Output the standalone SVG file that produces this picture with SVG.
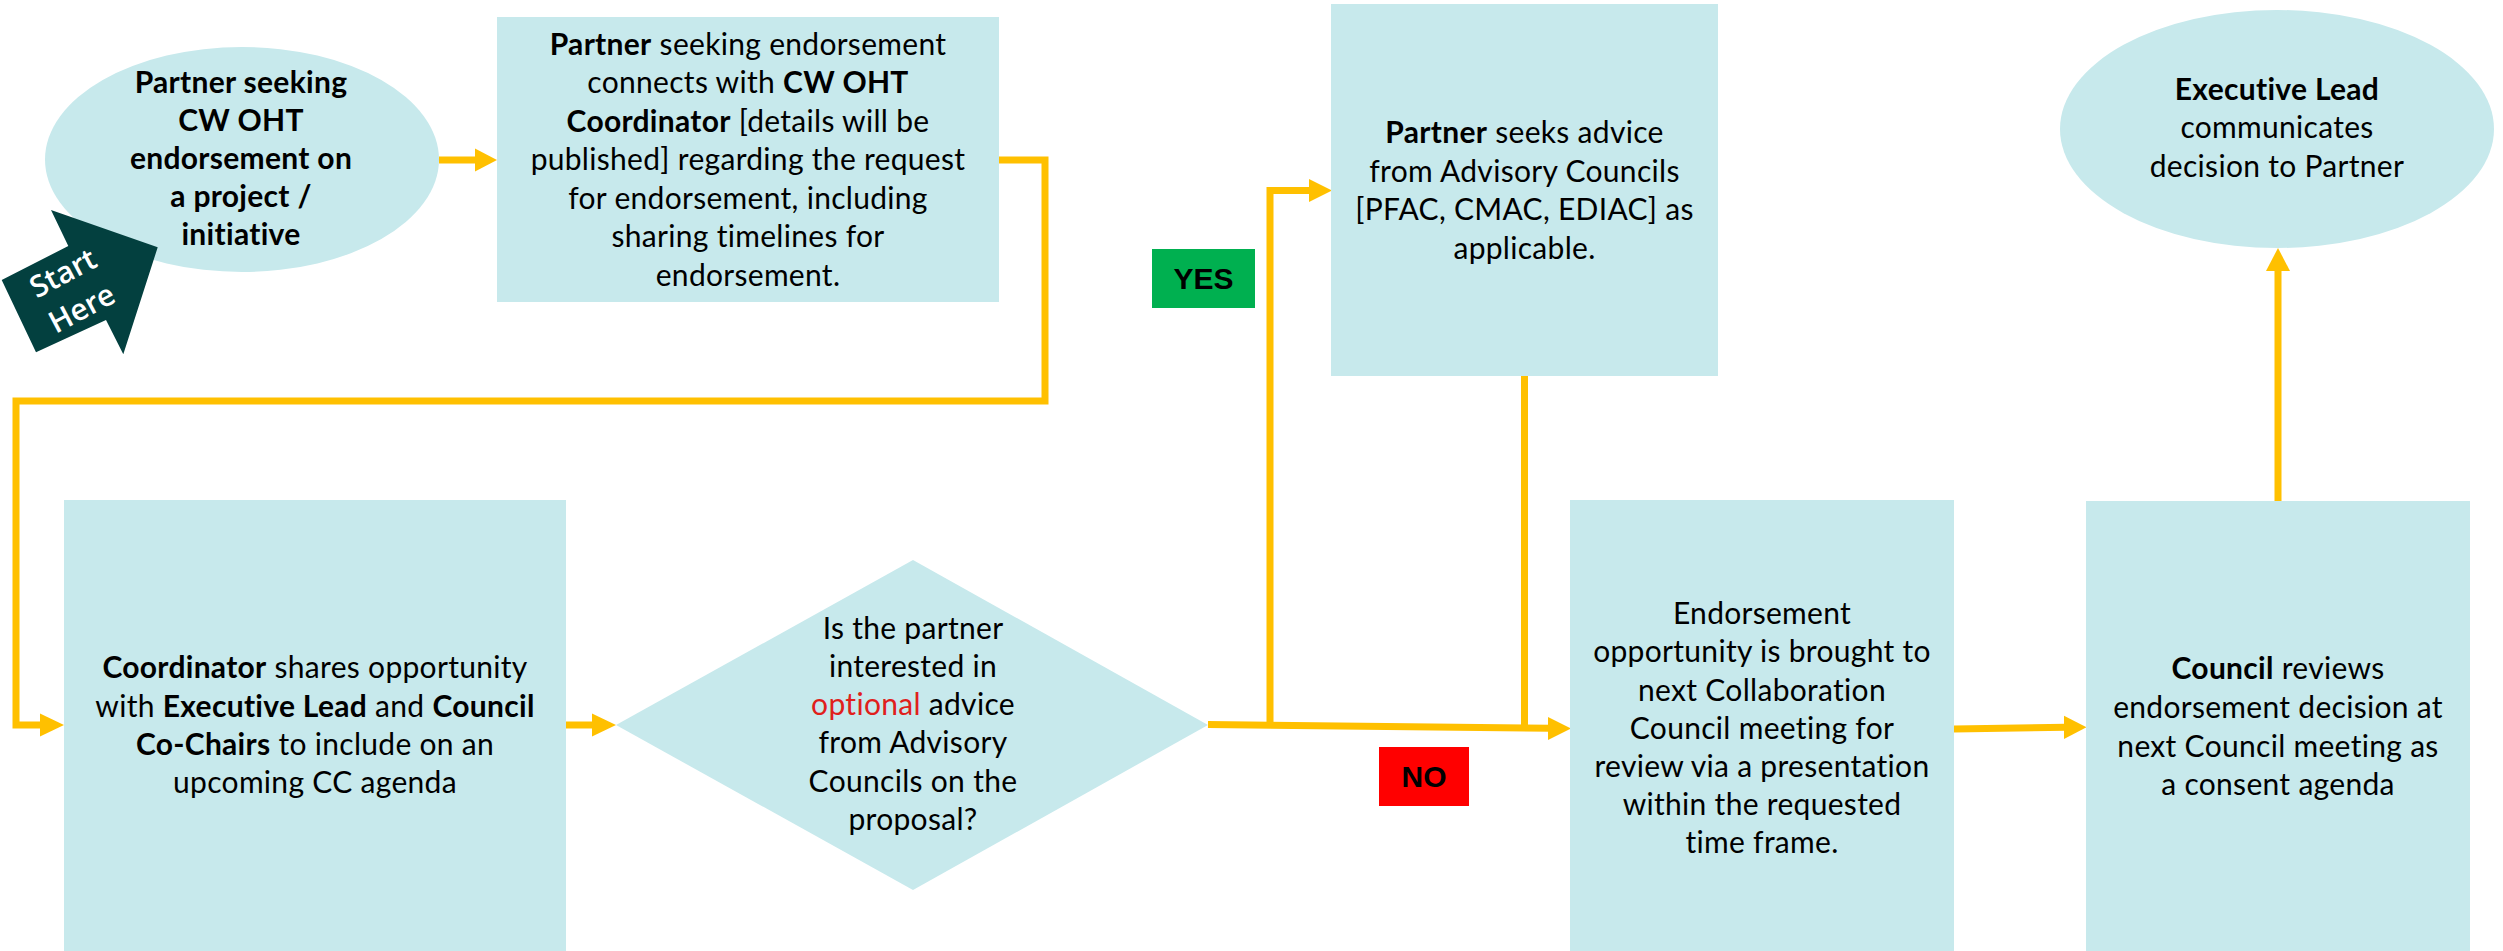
<svg xmlns="http://www.w3.org/2000/svg" width="2503" height="951" viewBox="0 0 2503 951">
<style>
.n{fill:#C7E9EC;}
.t{font-family:Lato,"Noto Sans","Liberation Sans",sans-serif;font-size:30px;letter-spacing:0.3px;fill:#000;text-anchor:middle;}
.b{font-weight:bold;}
.c{fill:none;stroke:#FFC000;stroke-width:7;stroke-linejoin:miter;}
.h{fill:#FFC000;}
.lbl{font-family:"Liberation Sans",Arial,sans-serif;font-weight:bold;font-size:30px;fill:#000;text-anchor:middle;}
</style>
<rect width="2503" height="951" fill="#fff"/>

<g id="connectors">
  <line class="c" x1="439" y1="160" x2="477" y2="160"/>
  <polygon class="h" points="475,148.5 497,160 475,171.5"/>
  <polyline class="c" points="999,160 1045,160 1045,401 16,401 16,725 42,725"/>
  <polygon class="h" points="40,713.5 64,725 40,736.5"/>
  <line class="c" x1="566" y1="725" x2="594" y2="725"/>
  <polygon class="h" points="592,713.5 616,725 592,736.5"/>
  <polyline class="c" points="1208,724.5 1550,728.3"/>
  <polygon class="h" points="1548,717 1571,728.5 1548,740"/>
  <polyline class="c" points="1270,724.7 1270,190.5 1311,190.5"/>
  <polygon class="h" points="1309,179 1332,190.5 1309,202"/>
  <polyline class="c" points="1524.5,376 1524.5,728"/>
  <polyline class="c" points="1954,729 2066,727.3"/>
  <polygon class="h" points="2064,715.7 2086.5,727.3 2064,739"/>
  <line class="c" x1="2278" y1="501" x2="2278" y2="269"/>
  <polygon class="h" points="2266,271 2278,248 2290,271"/>
</g>

<g id="node-start-ellipse">
  <ellipse class="n" cx="242" cy="159.5" rx="197" ry="112.5"/>
  <text class="t b" x="241" y="93">Partner seeking</text>
  <text class="t b" x="241" y="131">CW OHT</text>
  <text class="t b" x="241" y="169">endorsement on</text>
  <text class="t b" x="241" y="207">a project /</text>
  <text class="t b" x="241" y="245">initiative</text>
</g>

<g id="start-here">
  <polygon fill="#03403F" points="51,210 68.3,246 1.7,280 36,352.3 106,320 123.3,354.3 157.7,247.3"/>
  <g transform="rotate(-28 72.5 290.8)">
    <text x="72.5" y="281" font-family="'Open Sans',Lato,sans-serif" font-weight="600" font-size="30" fill="#fff" text-anchor="middle">Start</text>
    <text x="72.5" y="321" font-family="'Open Sans',Lato,sans-serif" font-weight="600" font-size="30" fill="#fff" text-anchor="middle">Here</text>
  </g>
</g>

<g id="node-connect">
  <rect class="n" x="497" y="17" width="502" height="285"/>
  <text class="t" x="748" y="54.5"><tspan class="b">Partner</tspan> seeking endorsement</text>
  <text class="t" x="748" y="93">connects with <tspan class="b">CW OHT</tspan></text>
  <text class="t" x="748" y="131.5"><tspan class="b">Coordinator</tspan> [details will be</text>
  <text class="t" x="748" y="170">published] regarding the request</text>
  <text class="t" x="748" y="208.5">for endorsement, including</text>
  <text class="t" x="748" y="247">sharing timelines for</text>
  <text class="t" x="748" y="285.5">endorsement.</text>
</g>

<g id="node-coordinator">
  <rect class="n" x="64" y="500" width="502" height="451"/>
  <text class="t" x="315" y="678"><tspan class="b">Coordinator</tspan> shares opportunity</text>
  <text class="t" x="315" y="717">with <tspan class="b">Executive Lead</tspan> and <tspan class="b">Council</tspan></text>
  <text class="t" x="315" y="755"><tspan class="b">Co-Chairs</tspan> to include on an</text>
  <text class="t" x="315" y="793">upcoming CC agenda</text>
</g>

<g id="node-decision">
  <polygon class="n" points="913,560 1208,725 913,890 616,725"/>
  <text class="t" x="913" y="638.5">Is the partner</text>
  <text class="t" x="913" y="677">interested in</text>
  <text class="t" x="913" y="715"><tspan fill="#E0201B">optional</tspan> advice</text>
  <text class="t" x="913" y="753">from Advisory</text>
  <text class="t" x="913" y="791.5">Councils on the</text>
  <text class="t" x="913" y="830">proposal?</text>
</g>

<g id="label-yes">
  <rect x="1152" y="249" width="103" height="59" fill="#00B050"/>
  <text class="lbl" x="1203.5" y="289">YES</text>
</g>

<g id="label-no">
  <rect x="1379" y="747" width="90" height="59" fill="#FF0000"/>
  <text class="lbl" x="1424" y="787">NO</text>
</g>

<g id="node-advisory">
  <rect class="n" x="1331" y="4" width="387" height="372"/>
  <text class="t" x="1524.5" y="142.7"><tspan class="b">Partner</tspan> seeks advice</text>
  <text class="t" x="1524.5" y="181.5">from Advisory Councils</text>
  <text class="t" x="1524.5" y="220">[PFAC, CMAC, EDIAC] as</text>
  <text class="t" x="1524.5" y="258.5">applicable.</text>
</g>

<g id="node-endorsement">
  <rect class="n" x="1570" y="500" width="384" height="451"/>
  <text class="t" x="1762" y="624">Endorsement</text>
  <text class="t" x="1762" y="662">opportunity is brought to</text>
  <text class="t" x="1762" y="700.5">next Collaboration</text>
  <text class="t" x="1762" y="739">Council meeting for</text>
  <text class="t" x="1762" y="777">review via a presentation</text>
  <text class="t" x="1762" y="815">within the requested</text>
  <text class="t" x="1762" y="853">time frame.</text>
</g>

<g id="node-council">
  <rect class="n" x="2086" y="501" width="384" height="450"/>
  <text class="t" x="2278" y="679"><tspan class="b">Council</tspan> reviews</text>
  <text class="t" x="2278" y="718">endorsement decision at</text>
  <text class="t" x="2278" y="757">next Council meeting as</text>
  <text class="t" x="2278" y="795">a consent agenda</text>
</g>

<g id="node-exec">
  <ellipse class="n" cx="2277" cy="129" rx="217" ry="119"/>
  <text class="t" x="2277" y="100"><tspan class="b">Executive Lead</tspan></text>
  <text class="t" x="2277" y="138">communicates</text>
  <text class="t" x="2277" y="176.7">decision to Partner</text>
</g>
</svg>
